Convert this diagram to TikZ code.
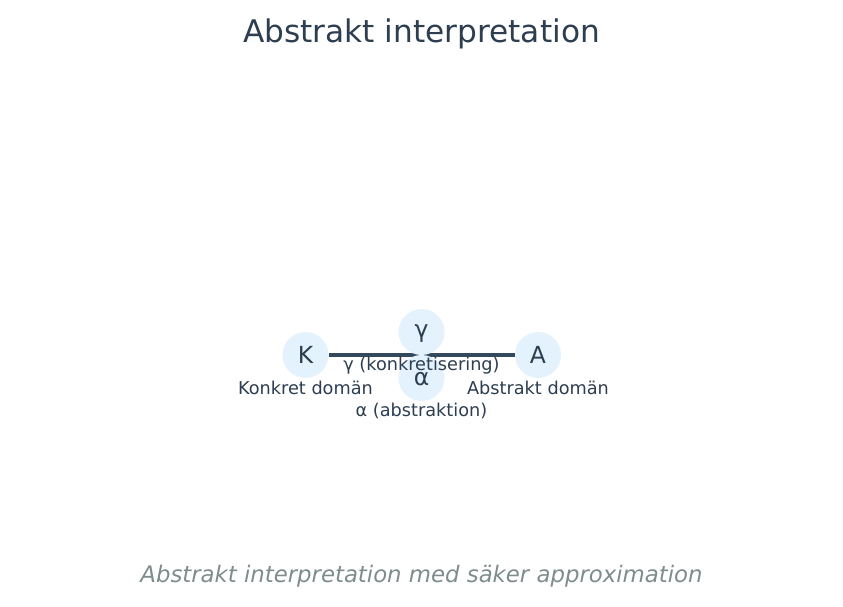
\documentclass[tikz,border=0pt]{standalone}
\usepackage{fontspec}
\setmainfont{DejaVu Sans}
\usetikzlibrary{arrows.meta}
\definecolor{txt}{HTML}{2C3E50}
\definecolor{edge}{HTML}{34495E}
\definecolor{circ}{HTML}{E3F2FD}
\definecolor{cap}{HTML}{7F8C8D}
\begin{document}
\begin{tikzpicture}[x=1pt,y=-1pt,
  nd/.style={circle,fill=circ,minimum size=46pt,inner sep=0pt,text=txt,font=\fontsize{23.5}{27}\selectfont},
  lbl/.style={text=txt,font=\fontsize{17.7}{21}\selectfont,inner sep=0pt},
  conn/.style={draw=edge,line width=3.5pt,-{Stealth[length=8pt,width=9pt]}}]
\useasboundingbox (0,0) rectangle (843,607);
\node[text=txt,font=\fontsize{31.2}{36}\selectfont] (title) at (421.5,34) {Abstrakt interpretation};
\coordinate (ml) at (420,355);
\coordinate (mr) at (423,355);
\node[nd] (K) at (305.5,355) {K};
\node[nd] (A) at (538,355) {A};
\draw[conn] (K) -- (ml);
\draw[conn] (A) -- (mr);
\node[nd] (g) at (421.5,332) {};
\node[nd] (a) at (421.5,378) {};
\node[text=txt,font=\fontsize{23.5}{27}\selectfont,inner sep=0pt] (gt) at (421.5,334) {γ};
\node[text=txt,font=\fontsize{23.5}{27}\selectfont,inner sep=0pt] (at) at (421.5,379.5) {α};
\node[lbl] (gl) at (421.5,365.5) {γ (konkretisering)};
\node[lbl] (al) at (421.5,411) {α (abstraktion)};
\node[lbl] (kl) at (305.5,388) {Konkret domän};
\node[lbl] (abl) at (538,388) {Abstrakt domän};
\node[text=cap,font=\itshape\fontsize{22.8}{27}\selectfont] (caption) at (421.5,576) {Abstrakt interpretation med säker approximation};
\end{tikzpicture}
\end{document}
